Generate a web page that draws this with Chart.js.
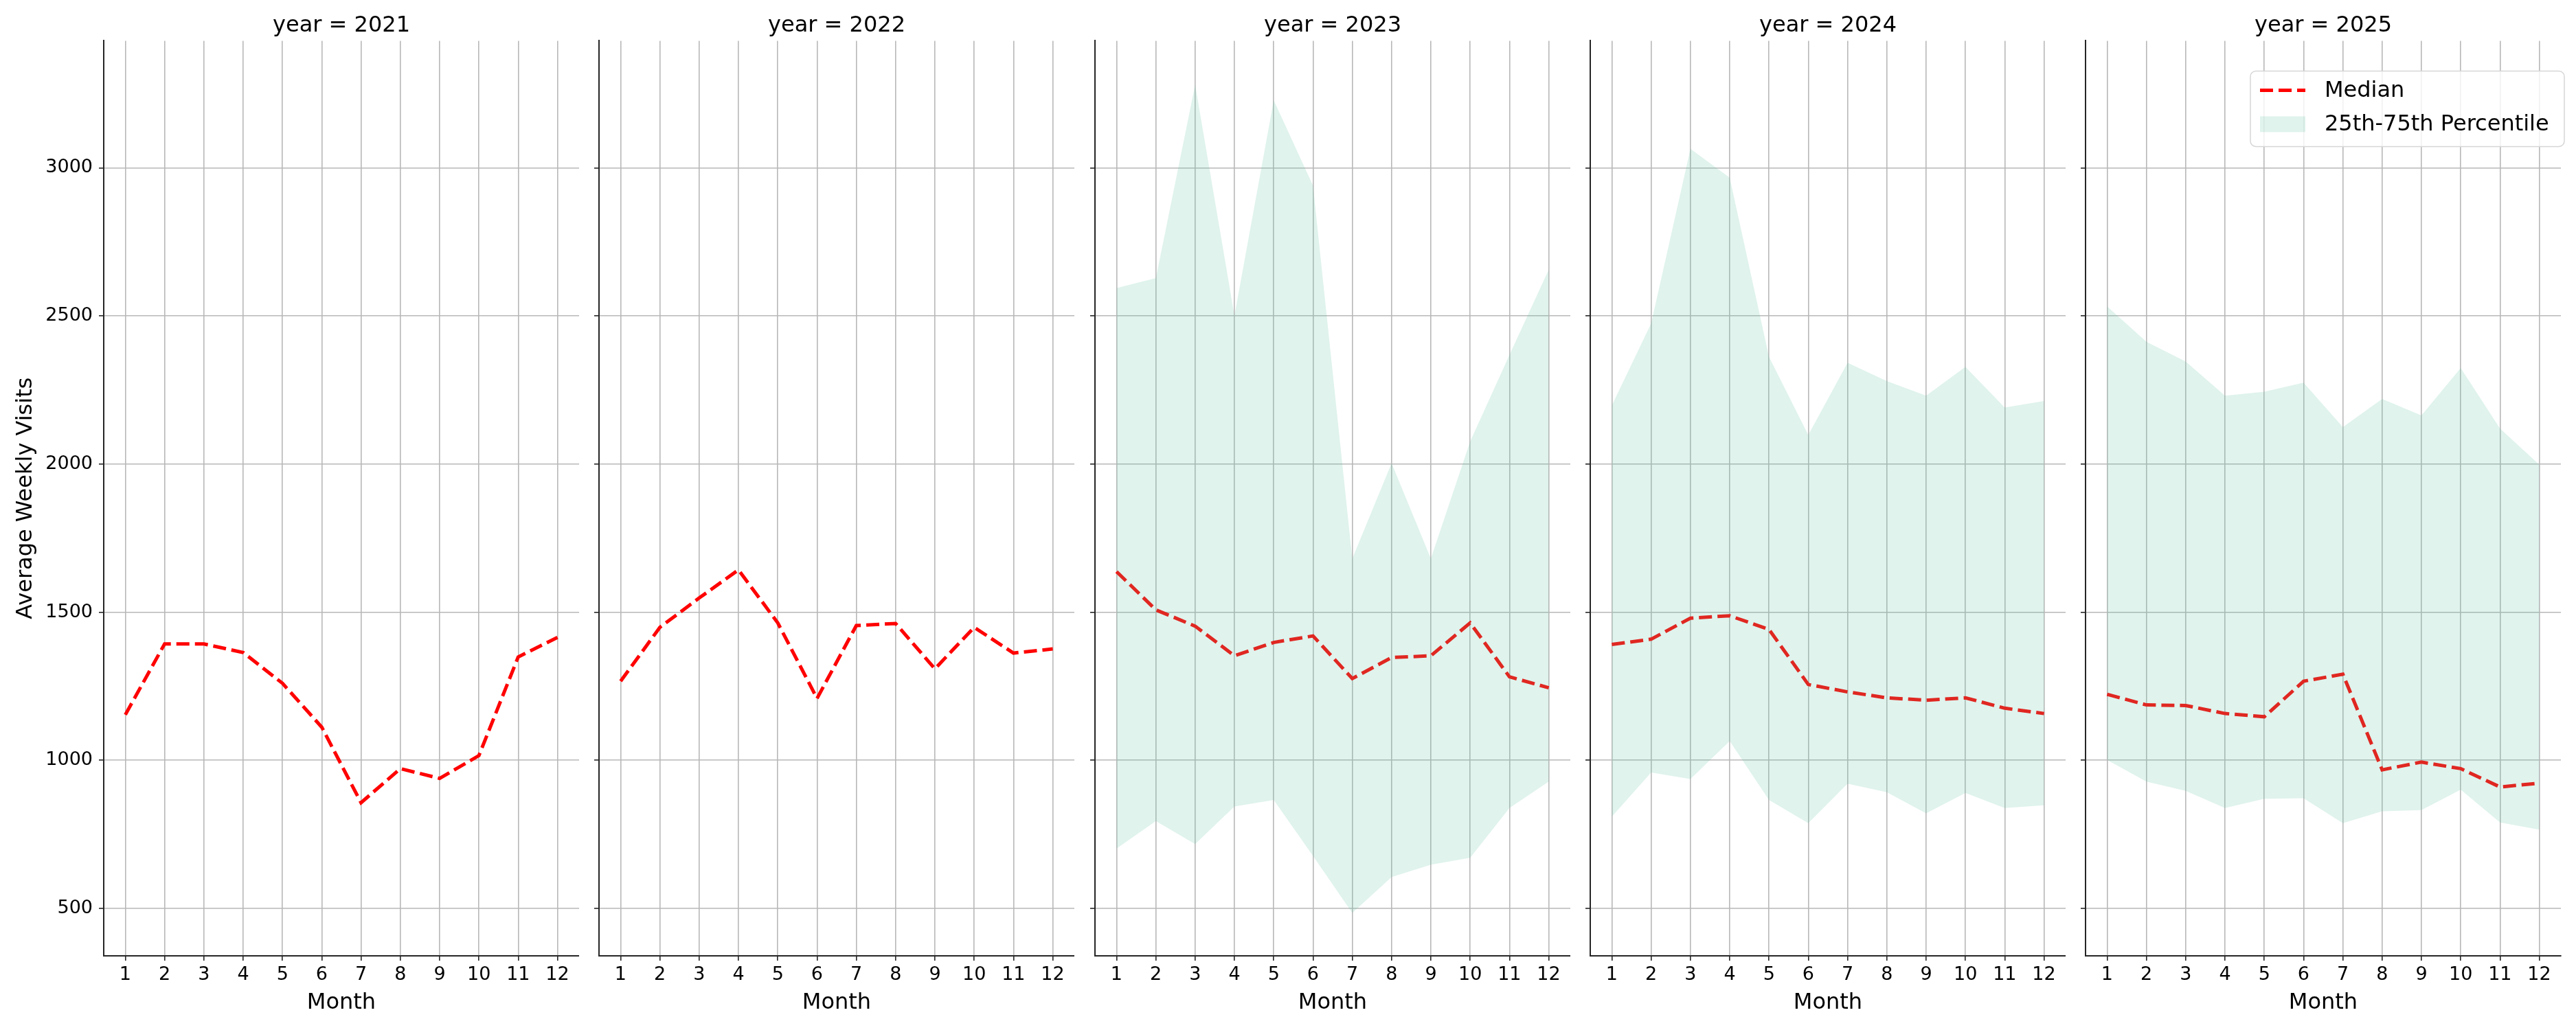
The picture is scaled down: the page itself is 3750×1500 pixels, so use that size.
<!DOCTYPE html>
<html>
<head>
<meta charset="utf-8">
<script src="https://cdn.jsdelivr.net/npm/chart.js@4.4.1/dist/chart.umd.min.js"></script>
<style>
  body { margin: 0; background: #fff; }
  #wrap { position: relative; width: 3750px; height: 1500px; background: #fff; }
  .panel { position: absolute; top: 0; height: 1500px; }
</style>
</head>
<body>
<div id="wrap"></div>
<script>
// data
const years = [2021, 2022, 2023, 2024, 2025];
const months = [1, 2, 3, 4, 5, 6, 7, 8, 9, 10, 11, 12];
const yTicks = [500, 1000, 1500, 2000, 2500, 3000];

const median2021 = [1154, 1393, 1393, 1364, 1260, 1112, 857, 972, 939, 1016, 1349, 1415];
const median2022 = [1267, 1449, 1548, 1643, 1464, 1209, 1455, 1462, 1309, 1449, 1362, 1376];
const median2023 = [1637, 1508, 1453, 1353, 1398, 1420, 1276, 1347, 1353, 1464, 1282, 1245];
const median2024 = [1391, 1409, 1480, 1488, 1442, 1256, 1231, 1211, 1203, 1211, 1176, 1158];
const median2025 = [1223, 1187, 1185, 1158, 1147, 1267, 1291, 968, 994, 972, 910, 923];

const q25_2023 = [702, 795, 717, 844, 866, 677, 485, 606, 648, 671, 839, 928];
const q75_2023 = [2594, 2628, 3281, 2501, 3228, 2940, 1681, 2003, 1681, 2076, 2368, 2656];
const q25_2024 = [810, 959, 937, 1065, 866, 788, 921, 892, 821, 890, 839, 848];
const q75_2024 = [2198, 2475, 3064, 2967, 2362, 2098, 2342, 2280, 2231, 2328, 2191, 2213];
const q25_2025 = [1001, 928, 897, 839, 870, 872, 788, 828, 832, 901, 790, 766];
const q75_2025 = [2532, 2413, 2346, 2231, 2244, 2275, 2125, 2220, 2164, 2324, 2120, 1998];

const medians = [median2021, median2022, median2023, median2024, median2025];
const lowers = [null, null, q25_2023, q25_2024, q25_2025];
const uppers = [null, null, q75_2023, q75_2024, q75_2025];

const RED = '#ff0000';
const BAND = 'rgba(102, 194, 165, 0.2)';
const GRID = '#b8b8b8';
const SPINE = '#262626';

Chart.defaults.font.family = "'DejaVu Sans', sans-serif";
Chart.defaults.color = '#000';

const pts = arr => months.map((m, i) => ({ x: m, y: arr[i] }));

// matplotlib-like legend box in the last panel
const bandLegend = {
  id: 'bandLegend',
  afterDraw(chart) {
    const { ctx, chartArea } = chart;
    const ds = chart.data.datasets;
    const med = ds.find(d => d.label === 'Median');
    const band = ds.find(d => d.label === '25th-75th Percentile');
    const w = 457, h = 110;
    const x = chartArea.right + 5 - w, y = chartArea.top + 44;
    ctx.save();
    ctx.beginPath();
    ctx.roundRect(x, y, w, h, 8);
    ctx.fillStyle = 'rgba(255,255,255,0.8)';
    ctx.fill();
    ctx.lineWidth = 1.5;
    ctx.strokeStyle = '#d6d6d6';
    ctx.stroke();

    ctx.beginPath();
    ctx.setLineDash(med.borderDash);
    ctx.lineWidth = med.borderWidth;
    ctx.strokeStyle = med.borderColor;
    ctx.moveTo(x + 14, y + 28);
    ctx.lineTo(x + 80, y + 28);
    ctx.stroke();
    ctx.setLineDash([]);

    ctx.fillStyle = band.backgroundColor;
    ctx.fillRect(x + 14, y + 66, 66, 23);

    ctx.fillStyle = '#000';
    ctx.font = "32px 'DejaVu Sans', sans-serif";
    ctx.textBaseline = 'middle';
    ctx.textAlign = 'left';
    ctx.fillText(med.label, x + 108, y + 29);
    ctx.fillText(band.label, x + 108, y + 78);
    ctx.restore();
  }
};

const wrap = document.getElementById('wrap');

years.forEach((year, i) => {
  const first = i === 0;
  const last = i === years.length - 1;
  const yw = first ? 151 : 30;
  const plotLeft = 151 + i * 721.25;
  const padRight = last ? 10 : 0;

  const div = document.createElement('div');
  div.className = 'panel';
  div.style.left = (plotLeft - yw) + 'px';
  div.style.width = (yw + 692 + padRight) + 'px';
  const canvas = document.createElement('canvas');
  div.appendChild(canvas);
  wrap.appendChild(div);

  const datasets = [];
  if (lowers[i]) {
    datasets.push({
      label: 'q25',
      data: pts(lowers[i]),
      borderColor: 'transparent',
      borderWidth: 0,
      pointRadius: 0,
      fill: false
    });
    datasets.push({
      label: '25th-75th Percentile',
      data: pts(uppers[i]),
      borderColor: 'transparent',
      borderWidth: 0,
      backgroundColor: BAND,
      pointRadius: 0,
      fill: '-1'
    });
  }
  datasets.push({
    label: 'Median',
    data: pts(medians[i]),
    borderColor: RED,
    borderWidth: 5,
    borderDash: [19, 8],
    pointRadius: 0,
    tension: 0,
    fill: false
  });

  new Chart(canvas, {
    type: 'line',
    data: { datasets },
    plugins: last ? [bandLegend] : [],
    options: {
      responsive: true,
      maintainAspectRatio: false,
      animation: false,
      layout: { padding: { left: 0, right: padRight, top: 0, bottom: 0 } },
      plugins: {
        legend: { display: false },
        tooltip: { enabled: false },
        title: {
          display: true,
          text: 'year = ' + year,
          fullSize: false,
          font: { size: 32, weight: 'normal' },
          color: '#000',
          padding: { top: 18, bottom: 3 }
        }
      },
      scales: {
        x: {
          type: 'linear',
          min: 0.45,
          max: 12.55,
          afterBuildTicks: s => { s.ticks = months.map(v => ({ value: v })); },
          afterFit: s => { s.height = 108; },
          ticks: { font: { size: 27 }, padding: 5, maxRotation: 0, autoSkip: false, callback: v => String(v) },
          grid: { color: GRID, lineWidth: 1.6, tickColor: SPINE, tickLength: 7 },
          border: { display: true, color: SPINE, width: 2 },
          title: { display: true, text: 'Month', font: { size: 32 }, padding: { top: 0, bottom: 20 } }
        },
        y: {
          type: 'linear',
          min: 340,
          max: 3429,
          afterBuildTicks: s => { s.ticks = yTicks.map(v => ({ value: v })); },
          afterFit: s => { s.width = yw; },
          ticks: { display: first, font: { size: 27 }, padding: 9, callback: v => String(v) },
          grid: { color: GRID, lineWidth: 1.6, tickColor: SPINE, tickLength: 7 },
          border: { display: true, color: SPINE, width: 2 },
          title: {
            display: first,
            text: 'Average Weekly Visits',
            font: { size: 32 },
            padding: { top: 18, bottom: 0 }
          }
        }
      }
    }
  });
});
</script>
</body>
</html>
